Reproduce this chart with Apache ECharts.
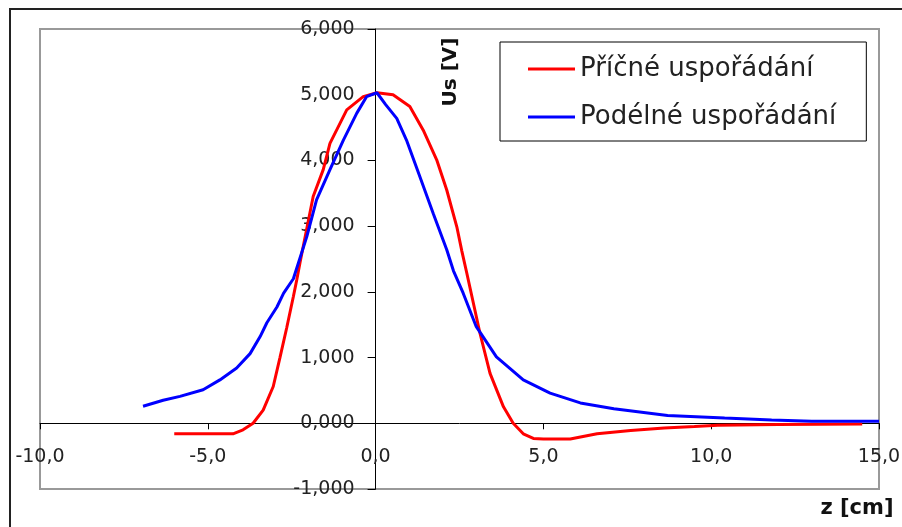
<!DOCTYPE html>
<html>
<head>
<meta charset="utf-8">
<script src="https://cdn.jsdelivr.net/npm/echarts@6/dist/echarts.min.js"></script>
<style>
  html, body { margin: 0; padding: 0; background: #fff; }
  #chart { width: 902px; height: 527px; }
</style>
</head>
<body>
<div id="chart"></div>
<script>
// Příčné uspořádání (červená)
const pricneZ = [-6.0, -5.0, -4.25, -3.95, -3.65, -3.35, -3.05, -2.85, -2.65, -2.45, -2.35, -2.25, -1.86, -1.56, -1.36, -0.86, -0.37, 0.04, 0.52, 1.02, 1.42, 1.82, 2.12, 2.42, 2.57, 2.72, 2.87, 3.11, 3.41, 3.81, 4.1, 4.4, 4.7, 5.0, 5.8, 6.6, 7.6, 8.6, 9.5, 10.2, 12.0, 14.5]
const pricneU = [-0.16, -0.16, -0.16, -0.10, 0.0, 0.2, 0.56, 1.0, 1.45, 1.93, 2.18, 2.45, 3.45, 3.86, 4.26, 4.77, 4.97, 5.03, 5.0, 4.82, 4.46, 4.01, 3.55, 2.99, 2.62, 2.28, 1.93, 1.37, 0.76, 0.25, 0.0, -0.16, -0.23, -0.24, -0.24, -0.16, -0.11, -0.07, -0.05, -0.03, -0.02, -0.01]

// Podélné uspořádání (modrá)
const podelneZ = [-6.93, -6.33, -5.83, -5.14, -4.64, -4.14, -3.74, -3.44, -3.24, -2.94, -2.74, -2.45, -2.05, -1.76, -1.36, -0.96, -0.56, -0.27, 0.04, 0.3, 0.63, 0.92, 1.32, 1.72, 2.12, 2.32, 2.61, 3.0, 3.6, 4.4, 5.2, 6.1, 7.1, 8.7, 10.4, 11.8, 13.0, 15.0]
const podelneU = [0.26, 0.35, 0.41, 0.51, 0.66, 0.84, 1.06, 1.32, 1.53, 1.77, 1.98, 2.2, 2.84, 3.40, 3.86, 4.31, 4.72, 4.97, 5.03, 4.85, 4.64, 4.31, 3.75, 3.19, 2.64, 2.32, 1.98, 1.47, 1.01, 0.66, 0.46, 0.31, 0.22, 0.12, 0.08, 0.05, 0.03, 0.03]

const seriesNames = ['Příčné uspořádání', 'Podélné uspořádání']
const xTicks = { min: -10, max: 15, step: 5 }
const yTicks = { min: -1, max: 6, step: 1 }

function pairs (xs, ys) {
    return xs.map((x, i) => [x, ys[i]])
}

// rozměry plochy grafu
const gLeft = 40, gRight = 23, gTop = 29, gBottom = 38
const gWidth = 902 - gLeft - gRight
const gHeight = 527 - gTop - gBottom
// osy se kříží v nule -> posun os dovnitř plochy
const yAxisShift = (0 - xTicks.min) / (xTicks.max - xTicks.min) * gWidth
const xAxisShift = (0 - yTicks.min) / (yTicks.max - yTicks.min) * gHeight

const font = 'DejaVu Sans'
let myChart = echarts.init(document.getElementById('chart'))
myChart.setOption({
    animation: false,
    backgroundColor: '#fff',
    grid: {
        left: gLeft,
        right: gRight,
        top: gTop,
        bottom: gBottom,
        containLabel: false,
        outerBoundsMode: 'none',
        show: true,
        borderColor: '#999',
        borderWidth: 2
    },
    legend: {
        orient: 'vertical',
        left: 500,
        top: 42,
        padding: [12, 30, 9, 28],
        icon: 'rect',
        itemWidth: 47,
        itemHeight: 3,
        itemGap: 18,
        backgroundColor: '#fff',
        borderColor: '#000',
        borderWidth: 1,
        borderRadius: 0,
        textStyle: { fontFamily: font, fontSize: 26, color: '#222', lineHeight: 30 },
        data: seriesNames
    },
    xAxis: {
        type: 'value',
        position: 'bottom',
        offset: -xAxisShift,
        min: xTicks.min,
        max: xTicks.max,
        interval: xTicks.step,
        axisLine: { onZero: false, lineStyle: { color: '#000', width: 1 } },
        axisTick: { show: true, length: 6, lineStyle: { color: '#000' } },
        axisLabel: {
            margin: 24,
            fontFamily: font,
            fontSize: 19,
            color: '#222',
            formatter: v => v.toFixed(1).replace('.', ',')
        },
        splitLine: { show: false }
    },
    yAxis: {
        type: 'value',
        position: 'left',
        offset: -yAxisShift,
        min: yTicks.min,
        max: yTicks.max,
        interval: yTicks.step,
        axisLine: { show: true, onZero: false, lineStyle: { color: '#000', width: 1 } },
        axisTick: { show: true, length: 8, lineStyle: { color: '#000' } },
        axisLabel: {
            margin: 21,
            fontFamily: font,
            fontSize: 19,
            color: '#222',
            formatter: v => v.toFixed(3).replace('.', ',')
        },
        splitLine: { show: false }
    },
    graphic: [
        {   // vnější rámeček
            type: 'rect',
            shape: { x: 10, y: 9, width: 910, height: 540 },
            style: { fill: null, stroke: '#222', lineWidth: 2 },
            silent: true
        },
        {
            type: 'text',
            x: 451,
            y: 72,
            rotation: Math.PI / 2,
            style: {
                text: 'Us [V]',
                font: 'bold 20px "DejaVu Sans"',
                fill: '#111',
                align: 'center',
                verticalAlign: 'middle'
            }
        },
        {
            type: 'text',
            x: 857,
            y: 509,
            style: {
                text: 'z [cm]',
                font: 'bold 21px "DejaVu Sans"',
                fill: '#111',
                align: 'center',
                verticalAlign: 'middle'
            }
        }
    ],
    series: [
        {
            name: seriesNames[0],
            type: 'line',
            symbol: 'none',
            data: pairs(pricneZ, pricneU),
            lineStyle: { color: '#ff0000', width: 3 },
            itemStyle: { color: '#ff0000' }
        },
        {
            name: seriesNames[1],
            type: 'line',
            symbol: 'none',
            data: pairs(podelneZ, podelneU),
            lineStyle: { color: '#0000ff', width: 3 },
            itemStyle: { color: '#0000ff' }
        }
    ]
})
</script>
</body>
</html>
